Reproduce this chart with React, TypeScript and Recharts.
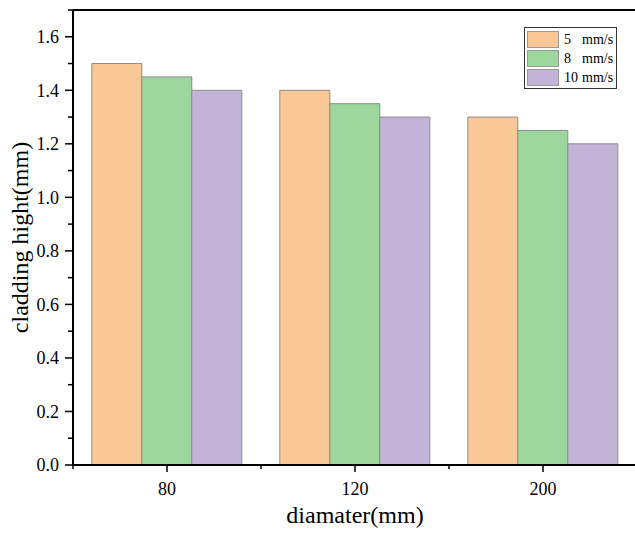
import { BarChart, Bar, XAxis, YAxis, ReferenceLine, Legend } from 'recharts';

// diameters on the x axis
const diameters = ['80', '120', '200'];
// cladding height (mm) per scanning speed
const speed5 = [1.5, 1.4, 1.3];
const speed8 = [1.45, 1.35, 1.25];
const speed10 = [1.4, 1.3, 1.2];
const seriesNames = ['5 mm/s', '8 mm/s', '10 mm/s'];
const seriesColors = ['#FAC897', '#9ED79D', '#C2B3D7'];
const yTicks = [0, 0.1, 0.2, 0.3, 0.4, 0.5, 0.6, 0.7, 0.8, 0.9, 1.0, 1.1, 1.2, 1.3, 1.4, 1.5, 1.6, 1.7];

const data = diameters.map((d, i) => ({
  diameter: d,
  s5: speed5[i],
  s8: speed8[i],
  s10: speed10[i],
}));

const FONT = "'Liberation Serif', serif";
const textStyle = { fontFamily: FONT };

const YTick = ({ x, y, payload, index }: any) => {
  const major = index % 2 === 0;
  return (
    <g>
      <line x1={x - (major ? 8 : 5)} x2={x} y1={y} y2={y} stroke="#000" strokeWidth={1.5} />
      {major && (
        <text x={x - 14} y={y} dy="0.35em" textAnchor="end" fontSize={18} style={textStyle} fill="#000">
          {Number(payload.value).toFixed(1)}
        </text>
      )}
    </g>
  );
};

const XTick = ({ x, y, payload }: any) => {
  const half = payload.offset || 0;
  return (
    <g>
      <line x1={x} x2={x} y1={y} y2={y + 7} stroke="#000" strokeWidth={1.5} />
      <line x1={x - half} x2={x - half} y1={y} y2={y + 4} stroke="#000" strokeWidth={1.5} />
      <text x={x} y={y + 30} textAnchor="middle" fontSize={18} style={textStyle} fill="#000">
        {payload.value}
      </text>
    </g>
  );
};

// legend drawn from the series arrays so the order stays 5, 8, 10
const renderLegend = () => (
  <div
    style={{
      border: '1px solid #333',
      padding: '2px 3px 1px 2px',
      background: '#fff',
      fontFamily: FONT,
      fontSize: 14,
      lineHeight: '19px',
    }}
  >
    {seriesNames.map((name, i) => {
      const [num, unit] = name.split(' ');
      return (
        <div key={name} style={{ display: 'flex', alignItems: 'center', height: 19 }}>
          <span
            style={{
              display: 'inline-block',
              width: 30,
              height: 15,
              background: seriesColors[i],
              border: '1px solid #999',
              marginRight: 5,
            }}
          />
          <span style={{ display: 'inline-block', width: 18 }}>{num}</span>
          <span>{unit}</span>
        </div>
      );
    })}
  </div>
);

export default function App() {
  return (
    <div
      style={{
        position: 'absolute',
        left: 0,
        top: 0,
        width: 635,
        height: 533,
        overflow: 'hidden',
        background: '#fff',
        fontFamily: FONT,
      }}
    >
      <BarChart
        width={637}
        height={533}
        data={data}
        margin={{ top: 10, right: 0, left: 0, bottom: 0 }}
        barCategoryGap="10%"
        barGap={0}
        style={textStyle}
      >
        <XAxis
          dataKey="diameter"
          height={68}
          axisLine={{ stroke: '#000', strokeWidth: 2 }}
          tickLine={false}
          tickSize={0}
          tickMargin={0}
          tick={<XTick />}
          interval={0}
          label={{
            content: ({ viewBox }: any) => (
              <text
                x={viewBox.x + viewBox.width / 2}
                y={viewBox.y + 58}
                textAnchor="middle"
                fontSize={24}
                style={textStyle}
                fill="#000"
              >
                diamater(mm)
              </text>
            ),
          }}
        />
        <YAxis
          width={73}
          domain={[0, 1.7]}
          ticks={yTicks}
          interval={0}
          axisLine={{ stroke: '#000', strokeWidth: 2 }}
          tickLine={false}
          tickSize={0}
          tickMargin={0}
          tick={<YTick />}
          label={{
            content: ({ viewBox }: any) => {
              const cx = 20;
              const cy = viewBox.y + viewBox.height / 2;
              return (
                <text
                  x={cx}
                  y={cy}
                  transform={`rotate(-90 ${cx} ${cy})`}
                  textAnchor="middle"
                  dominantBaseline="central"
                  fontSize={24}
                  style={textStyle}
                  fill="#000"
                >
                  cladding hight(mm)
                </text>
              );
            },
          }}
        />
        <ReferenceLine y={1.7} stroke="#000" strokeWidth={2} />
        <Legend
          layout="horizontal"
          verticalAlign="middle"
          align="center"
          content={renderLegend}
          wrapperStyle={{ left: 524, top: 27, width: 'auto' }}
        />
        <Bar dataKey="s5" name={seriesNames[0]} fill={seriesColors[0]} stroke="#8c8c8c" strokeWidth={1} isAnimationActive={false} />
        <Bar dataKey="s8" name={seriesNames[1]} fill={seriesColors[1]} stroke="#8c8c8c" strokeWidth={1} isAnimationActive={false} />
        <Bar dataKey="s10" name={seriesNames[2]} fill={seriesColors[2]} stroke="#8c8c8c" strokeWidth={1} isAnimationActive={false} />
      </BarChart>
    </div>
  );
}
